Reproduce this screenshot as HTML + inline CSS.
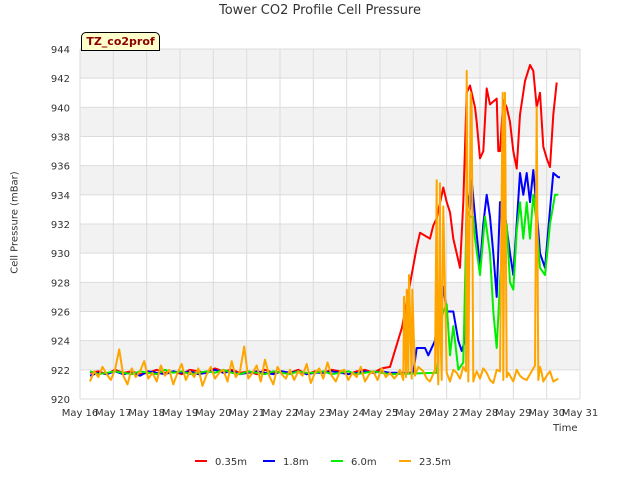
<!DOCTYPE html>
<html><head><meta charset="utf-8"><style>
body{margin:0;background:#fff;font-family:"Liberation Sans","DejaVu Sans",sans-serif}
svg text{font-family:"DejaVu Sans","Liberation Sans",sans-serif}
</style></head><body>
<svg id="c" width="640" height="480" xmlns="http://www.w3.org/2000/svg"></svg>
<script>
const xTickLabels=["May 16","May 17","May 18","May 19","May 20","May 21","May 22","May 23","May 24","May 25","May 26","May 27","May 28","May 29","May 30","May 31"];
const yTicks=[920,922,924,926,928,930,932,934,936,938,940,942,944];
const seriesNames=["0.35m","1.8m","6.0m","23.5m"];
const seriesColors=["#ff0000","#0000ff","#00ee00","#ffa500"];
// flat noise (every 0.25 day from day 0.3)
const redFlat=[921.8,921.9,921.7,922.0,921.8,921.9,921.7,921.8,922.0,921.8,921.9,921.7,922.0,921.9,921.8,922.1,921.9,922.0,921.8,921.9,921.7,922.0,921.8,921.9,921.8,922.0,921.7,921.9,921.8,922.0,921.9,921.7,921.9,922.0,921.8,922.1,922.2];
const blueFlat=[921.6,921.8,921.7,921.9,921.7,921.8,921.6,921.9,921.8,921.7,921.9,921.8,921.9,921.7,921.8,922.0,921.8,921.9,921.7,921.8,921.9,921.8,921.7,921.9,921.8,921.9,921.7,921.8,921.8,921.9,921.8,921.7,921.8,921.9,921.8,921.9,921.8];
const greenFlat=[921.9,921.7,921.8,921.9,921.8,921.7,921.9,921.8,921.7,922.0,921.8,921.9,921.7,921.8,921.9,921.8,922.0,921.8,921.7,921.9,921.8,921.7,921.9,921.8,921.7,921.9,921.8,921.8,921.9,921.7,921.8,921.9,921.7,921.8,921.9,921.8,921.7];
// orange flat noise every 0.125 day from day 0.3
const orangeFlat=[921.2,921.9,921.5,922.2,921.7,921.3,922.0,923.4,921.6,921.0,922.1,921.5,921.9,922.6,921.4,921.8,921.2,922.3,921.6,922.0,921.0,921.8,922.4,921.3,921.9,921.5,922.1,920.9,921.7,922.2,921.4,921.8,922.0,921.2,922.6,921.5,921.9,923.6,921.4,921.8,922.3,921.2,922.7,921.6,921.0,922.2,921.7,921.4,922.0,921.3,921.9,921.6,922.4,921.1,921.8,922.1,921.4,922.5,921.6,921.2,921.9,922.0,921.3,921.8,921.5,922.2,921.2,921.7,921.9,921.3,922.1,921.5,921.8,921.4];
// active period
const redDays=[9.3,9.66,10.1,10.2,10.5,10.6,10.7,10.9,11.0,11.1,11.2,11.4,11.5,11.6,11.7,11.85,11.9,12.0,12.1,12.2,12.3,12.5,12.55,12.6,12.7,12.8,12.9,13.0,13.1,13.2,13.35,13.5,13.6,13.7,13.8,13.9,14.0,14.1,14.2,14.3];
const redVals=[922.2,924.9,930.4,931.4,931.0,931.9,932.4,934.5,933.5,932.8,931.0,929.0,933.5,941.0,941.5,940.0,939.0,936.5,937.0,941.3,940.2,940.6,937.0,937.0,940.5,940.0,939.0,937.0,935.8,939.5,941.8,942.9,942.5,940.0,941.0,937.3,936.5,935.9,939.5,941.7];
const blueDays=[10.0,10.1,10.35,10.45,10.65,10.7,10.9,11.0,11.2,11.35,11.45,11.55,11.6,11.7,11.75,11.85,12.0,12.1,12.2,12.3,12.4,12.5,12.6,12.7,12.9,13.0,13.1,13.2,13.3,13.4,13.5,13.6,13.7,13.8,13.95,14.1,14.2,14.35,14.4];
const blueVals=[921.8,923.5,923.5,923.0,924.0,925.0,927.7,926.0,926.0,924.0,923.3,924.0,934.4,933.0,935.0,932.5,929.0,932.0,934.0,932.5,930.0,927.0,933.5,933.5,930.0,928.5,932.0,935.5,934.0,935.5,933.5,935.7,933.0,930.0,929.0,933.0,935.5,935.2,935.2];
const greenDays=[10.7,10.8,10.9,11.0,11.1,11.2,11.35,11.5,11.6,11.7,11.8,11.85,12.0,12.15,12.3,12.4,12.5,12.6,12.7,12.8,12.9,13.0,13.1,13.2,13.3,13.4,13.5,13.6,13.7,13.8,13.95,14.1,14.25,14.35];
const greenVals=[921.8,925.0,926.0,926.5,923.0,925.0,922.0,922.5,933.0,932.5,932.5,931.0,928.5,932.5,930.0,926.0,923.5,928.0,931.5,932.0,928.0,927.5,931.5,933.5,931.0,933.5,931.0,934.0,932.0,929.0,928.5,932.0,934.0,934.0];
const orangeDays=[9.5,9.6,9.7,9.72,9.78,9.8,9.85,9.87,9.95,9.97,10.05,10.15,10.3,10.4,10.5,10.65,10.7,10.72,10.75,10.8,10.82,10.85,10.9,11.0,11.1,11.2,11.3,11.4,11.5,11.58,11.6,11.65,11.72,11.75,11.8,11.85,11.9,12.0,12.1,12.2,12.3,12.4,12.5,12.6,12.68,12.7,12.75,12.8,12.85,13.0,13.1,13.2,13.3,13.4,13.55,13.65,13.7,13.75,13.8,13.85,13.9,14.0,14.1,14.2,14.35];
const orangeVals=[921.6,922.0,921.3,927.0,921.5,927.5,921.8,928.5,921.4,927.5,921.6,922.2,921.9,921.4,921.2,922.0,935.0,923.0,921.0,934.8,924.0,921.3,933.2,921.8,921.2,922.0,921.8,921.4,922.2,921.9,942.5,921.2,941.0,940.0,921.2,921.6,921.9,921.4,922.1,921.8,921.3,921.1,922.0,921.9,941.0,921.3,941.0,921.5,921.8,921.2,922.0,921.6,921.4,921.3,921.9,922.3,940.0,921.3,922.2,921.8,921.2,921.6,921.9,921.2,921.4];

const svg=document.getElementById('c'),NS="http://www.w3.org/2000/svg";
const L=80,R=580,T=49,B=399;
const X=d=>L+(R-L)*d/15, Y=v=>B-(B-T)*(v-920)/24;
function mk(tag,attrs,parent){const e=document.createElementNS(NS,tag);for(const k in attrs)e.setAttribute(k,attrs[k]);(parent||svg).appendChild(e);return e;}
for(let i=0;i<yTicks.length-1;i++){
  if(yTicks[i]%4===2){const r=mk('rect',{x:L,y:Y(yTicks[i+1]),width:R-L,height:Y(yTicks[i])-Y(yTicks[i+1]),fill:'#f2f2f2'});
  
  }
}
yTicks.forEach(v=>{const g=mk('line',{x1:L,x2:R,y1:Y(v),y2:Y(v),stroke:'#dcdcdc','stroke-width':1});


const t=mk('text',{x:L-10,y:Y(v)+4,'text-anchor':'end','font-size':10,fill:'#333'});t.textContent=v;

});
xTickLabels.forEach((s,i)=>{const g=mk('line',{x1:X(i),x2:X(i),y1:T,y2:B,stroke:'#dcdcdc'});


const t=mk('text',{x:X(i),y:B+17,'text-anchor':'middle','font-size':10,fill:'#333'});t.textContent=s;

});
function build(flat,step,days,vals){const pts=[];flat.forEach((v,i)=>pts.push([0.3+i*step,v]));days.forEach((d,i)=>{if(d>pts[pts.length-1][0])pts.push([d,vals[i]]);});return pts;}
const S=[build(redFlat,0.25,redDays,redVals),build(blueFlat,0.25,blueDays,blueVals),build(greenFlat,0.25,greenDays,greenVals),build(orangeFlat,0.125,orangeDays,orangeVals)];
S.forEach((pts,i)=>{const p=mk('polyline',{points:pts.map(q=>X(q[0]).toFixed(1)+','+Y(q[1]).toFixed(1)).join(' '),fill:'none',stroke:seriesColors[i],'stroke-width':2,'stroke-linejoin':'round'});

});
seriesNames.forEach((n,i)=>{const lx=195+i*68;
const l=mk('line',{x1:lx,x2:lx+12,y1:461,y2:461,stroke:seriesColors[i],'stroke-width':2});


const t=mk('text',{x:lx+20,y:465,'font-size':10,fill:'#333'});t.textContent=n;

});
</script>
<div style="position:absolute;left:0;top:0;width:640px;height:480px;pointer-events:none">
<div style="position:absolute;top:3px;width:640px;text-align:center;font:13px 'DejaVu Sans',sans-serif;color:#333">Tower CO2 Profile Cell Pressure</div>
<div style="position:absolute;left:-45px;top:217px;width:120px;text-align:center;transform:rotate(-90deg);font:10px 'DejaVu Sans',sans-serif;color:#333">Cell Pressure (mBar)</div>
<div style="position:absolute;left:553px;top:423px;font:10px 'DejaVu Sans',sans-serif;color:#333">Time</div>
<div style="position:absolute;left:81px;top:32px;width:77px;height:17px;background:#ffffcc;border:1px solid #000;border-radius:5px 5px 0 0;font:bold 11px 'DejaVu Sans',sans-serif;color:#8b0000;line-height:17px;text-align:center">TZ_co2prof</div>
</div>
</body></html>
